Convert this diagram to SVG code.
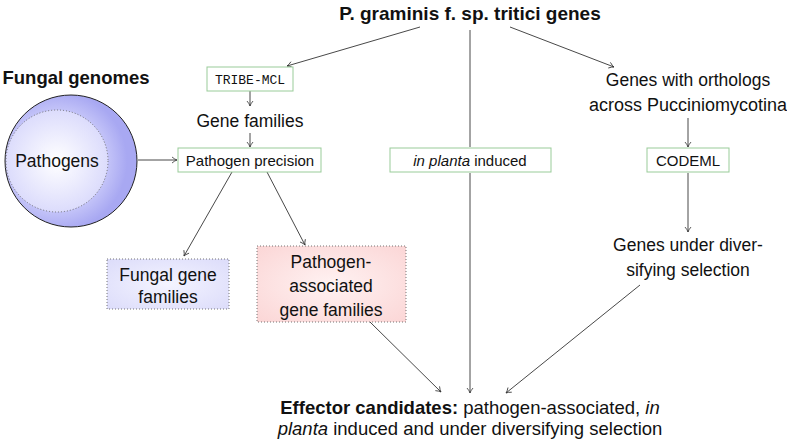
<svg xmlns="http://www.w3.org/2000/svg" width="787" height="444" viewBox="0 0 787 444">
<style>
text{font-family:"Liberation Sans","DejaVu Sans",sans-serif;font-size:17.5px;fill:#111;text-anchor:middle}
.b{font-weight:bold}
.mono{font-family:"Liberation Mono","DejaVu Sans Mono",monospace;font-size:13px}
.sm{font-size:15px}
.box{fill:#fff;stroke:#9c9;stroke-width:1}
.dot{stroke:#666;stroke-width:0.9;stroke-dasharray:1 2}
.c{fill:none;stroke:#333;stroke-width:0.9;marker-end:url(#ah)}
.n{fill:none;stroke:#333;stroke-width:0.9}
</style>
<defs>
<marker id="ah" viewBox="-6 -4 7 8" refX="0" refY="0" markerWidth="7" markerHeight="8" markerUnits="userSpaceOnUse" orient="auto">
<path d="M-5,-3 Q-2,-0.5 0,0 Q-2,0.5 -5,3" fill="none" stroke="#333" stroke-width="0.8"/>
</marker>
<radialGradient id="outer" cx="57" cy="161" r="70" gradientUnits="userSpaceOnUse">
<stop offset="0" stop-color="#ffffff"/>
<stop offset="0.6" stop-color="#d0d0fb"/>
<stop offset="1" stop-color="#a8a8f2"/>
</radialGradient>
<radialGradient id="inner" cx="57" cy="161" r="51" gradientUnits="userSpaceOnUse">
<stop offset="0" stop-color="#ffffff"/>
<stop offset="1" stop-color="#dcdcfc"/>
</radialGradient>
<radialGradient id="blue" cx="0.5" cy="0.5" r="0.7">
<stop offset="0" stop-color="#f4f4ff"/>
<stop offset="1" stop-color="#dcdcfa"/>
</radialGradient>
<radialGradient id="red" cx="0.5" cy="0.5" r="0.7">
<stop offset="0" stop-color="#fff2f2"/>
<stop offset="1" stop-color="#fbd6d6"/>
</radialGradient>
</defs>
<g id="connectors">
<path class="c" d="M420,27 L287,66"/>
<path class="n" d="M470,30 L470,147"/>
<path class="c" d="M510,27 L614,67"/>
<path class="c" d="M250,91 L250,106"/>
<path class="c" d="M250,133 L250,147"/>
<path class="c" d="M138,160 L177,160"/>
<path class="c" d="M232,172 L184,256"/>
<path class="c" d="M267,172 L305,245"/>
<path class="c" d="M688,118 L688,147"/>
<path class="c" d="M688,173 L688,232"/>
<path class="c" d="M470,173 L470,393"/>
<path class="c" d="M370,322 L441,392"/>
<path class="c" d="M640,285 L506,393"/>
</g>
<g id="title"><text class="b" x="470" y="20" style="font-size:19px">P. graminis f. sp. tritici genes</text></g>
<g id="fungal-genomes">
<text class="b" x="76" y="84" style="font-size:18.5px">Fungal genomes</text>
<circle cx="71" cy="161" r="66" fill="url(#outer)" stroke="#222" stroke-width="1"/>
</g>
<g id="pathogens">
<circle cx="57" cy="161" r="51" fill="url(#inner)" class="dot"/>
<text x="57" y="167">Pathogens</text>
</g>
<g id="tribe-mcl">
<rect class="box" x="207" y="67" width="86" height="24"/>
<text class="mono" x="250" y="84">TRIBE-MCL</text>
</g>
<g id="gene-families"><text x="250" y="127">Gene families</text></g>
<g id="pathogen-precision">
<rect class="box" x="178" y="148" width="143" height="24"/>
<text class="sm" x="250" y="166">Pathogen precision</text>
</g>
<g id="in-planta">
<rect class="box" x="390" y="148" width="161" height="24"/>
<text class="sm" x="470" y="166"><tspan font-style="italic">in planta</tspan> induced</text>
</g>
<g id="orthologs">
<text x="688" y="86">Genes with orthologs</text>
<text x="688" y="111" style="font-size:18px">across Pucciniomycotina</text>
</g>
<g id="codeml">
<rect class="box" x="647" y="148" width="82" height="24"/>
<text class="sm" x="688" y="166">CODEML</text>
</g>
<g id="diversifying">
<text x="688" y="251">Genes under diver-</text>
<text x="688" y="276">sifying selection</text>
</g>
<g id="fungal-gene-families">
<rect x="107" y="259" width="122" height="50" fill="url(#blue)" class="dot"/>
<text x="168" y="281">Fungal gene</text>
<text x="168" y="303">families</text>
</g>
<g id="pathogen-associated">
<rect x="257" y="246" width="149" height="76" fill="url(#red)" class="dot"/>
<text x="331" y="268">Pathogen-</text>
<text x="331" y="292">associated</text>
<text x="331" y="316">gene families</text>
</g>
<g id="effector">
<text x="470" y="414" style="font-size:18.5px"><tspan font-weight="bold">Effector candidates:</tspan> pathogen-associated, <tspan font-style="italic">in</tspan></text>
<text x="470" y="435" style="font-size:18.5px"><tspan font-style="italic">planta</tspan> induced and under diversifying selection</text>
</g>
</svg>
